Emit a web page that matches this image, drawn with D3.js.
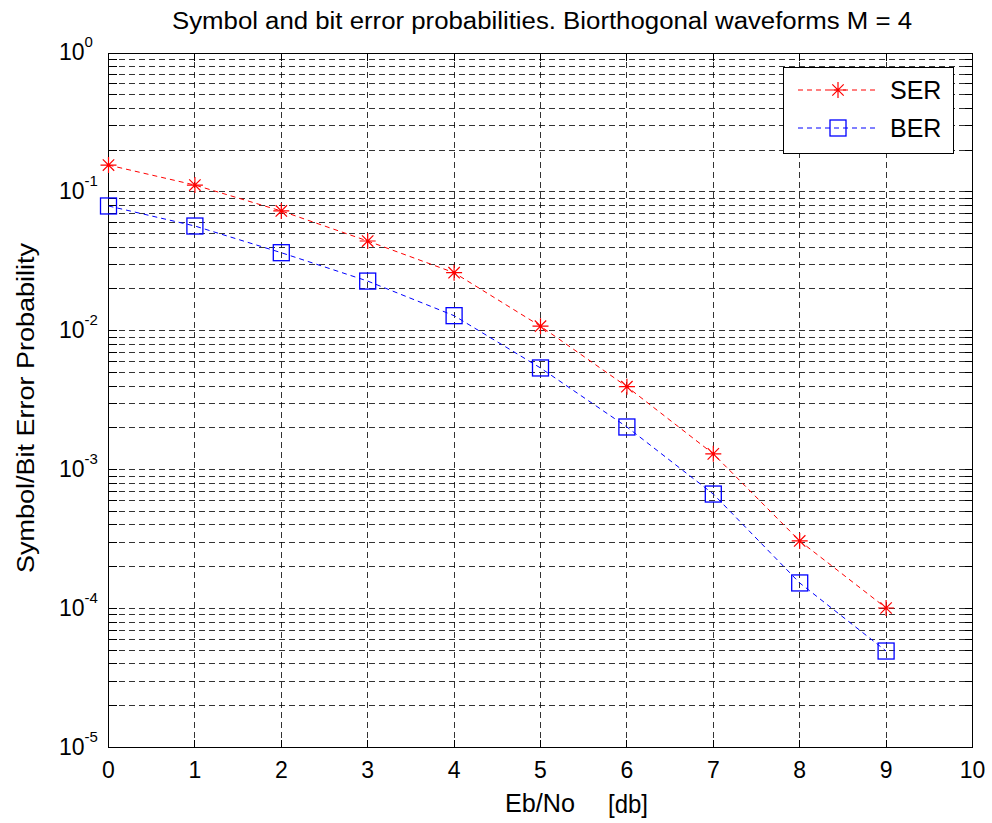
<!DOCTYPE html>
<html>
<head>
<meta charset="utf-8">
<script src="https://cdn.jsdelivr.net/npm/d3@7"></script>
<style>
  html, body { margin: 0; padding: 0; background: #fff; }
  svg { display: block; font-family: Arial, "Liberation Sans", Helvetica, sans-serif; }
</style>
</head>
<body>
<svg id="chart" width="992" height="823"></svg>
<script>
// ---- data ----
const ebno = [0, 1, 2, 3, 4, 5, 6, 7, 8, 9];
const ser = [0.156, 0.112, 0.0729, 0.0443, 0.0262, 0.0108, 0.00396, 0.0013, 0.000307, 0.000101];
const ber = [0.0792, 0.0568, 0.0365, 0.0228, 0.01285, 0.0054, 0.00203, 0.000668, 0.000153, 0.0000495];
const xTicks = [0, 1, 2, 3, 4, 5, 6, 7, 8, 9, 10];
const yDecades = [1, 1e-1, 1e-2, 1e-3, 1e-4, 1e-5];
const yExponents = ["0", "-1", "-2", "-3", "-4", "-5"];
const titleText = "Symbol and bit error probabilities. Biorthogonal waveforms M = 4";
const xLabelText = "Eb/No";
const xUnitText = "[db]";
const yLabelText = "Symbol/Bit Error Probability";
const seriesNames = ["SER", "BER"];

// ---- layout ----
const L = 108.5, R = 972.5, T = 53, B = 747.5;
const svg = d3.select("#chart");
const x = d3.scaleLinear().domain([0, 10]).range([L, R]);
const y = d3.scaleLog().domain([1e-5, 1]).range([B, T]);

// minor values
const minor = [];
for (let e = -5; e < 0; e++) for (let k = 2; k <= 9; k++) minor.push(k * Math.pow(10, e));

const grid = svg.append("g").attr("stroke", "#000").attr("stroke-width", 1)
  .attr("stroke-dasharray", "6,4").attr("shape-rendering", "crispEdges").attr("fill", "none");
grid.selectAll("line.h").data(minor.concat(yDecades.slice(1, 5))).enter().append("line")
  .attr("x1", L).attr("x2", R).attr("y1", d => y(d)).attr("y2", d => y(d)).attr("stroke-opacity", 0.8);
grid.selectAll("line.v").data(xTicks.slice(1, 10)).enter().append("line")
  .attr("y1", B).attr("y2", T).attr("x1", d => x(d)).attr("x2", d => x(d)).attr("stroke-opacity", 0.8);

// axes box + ticks
const ax = svg.append("g").attr("stroke", "#000").attr("stroke-width", 1).attr("shape-rendering", "crispEdges");
ax.append("rect").attr("x", L).attr("y", T).attr("width", R - L).attr("height", B - T).attr("fill", "none");
const tl = 8;
xTicks.forEach(v => {
  ax.append("line").attr("x1", x(v)).attr("x2", x(v)).attr("y1", B).attr("y2", B - tl);
  ax.append("line").attr("x1", x(v)).attr("x2", x(v)).attr("y1", T).attr("y2", T + tl);
});
minor.concat(yDecades).forEach(v => {
  ax.append("line").attr("x1", L).attr("x2", L + tl).attr("y1", y(v)).attr("y2", y(v));
  ax.append("line").attr("x1", R).attr("x2", R - tl).attr("y1", y(v)).attr("y2", y(v));
});

// x tick labels
svg.append("g").selectAll("text").data(xTicks).enter().append("text")
  .attr("x", d => x(d)).attr("y", 778).attr("text-anchor", "middle")
  .attr("font-size", 23).attr("fill", "#000").text(d => d);

// y tick labels
yDecades.forEach((v, i) => {
  const t = svg.append("text").attr("x", 59).attr("y", y(v) + 7).attr("font-size", 23).attr("fill", "#000");
  t.append("tspan").text("10");
  t.append("tspan").attr("dy", -13).attr("font-size", 15).text(yExponents[i]);
});

// series
const line = d3.line().x((d, i) => x(ebno[i])).y(d => y(d));
svg.append("path").datum(ser).attr("d", line).attr("fill", "none")
  .attr("stroke", "#ff0000").attr("stroke-width", 1).attr("stroke-dasharray", "5,4");
svg.append("path").datum(ber).attr("d", line).attr("fill", "none")
  .attr("stroke", "#0000ff").attr("stroke-width", 1).attr("stroke-dasharray", "5,4");

function star(g, cx, cy) {
  const s = 8, d = 5.7;
  g.append("path").attr("d",
    `M${cx - s},${cy}L${cx + s},${cy}M${cx},${cy - s}L${cx},${cy + s}` +
    `M${cx - d},${cy - d}L${cx + d},${cy + d}M${cx - d},${cy + d}L${cx + d},${cy - d}`)
    .attr("stroke", "#ff0000").attr("stroke-width", 1.2).attr("fill", "none");
}
function square(g, cx, cy) {
  g.append("rect").attr("x", cx - 8).attr("y", cy - 8).attr("width", 16).attr("height", 16)
    .attr("fill", "none").attr("stroke", "#0000ff").attr("stroke-width", 1.3);
}
const mk = svg.append("g");
ser.forEach((v, i) => star(mk, x(ebno[i]), y(v)));
ber.forEach((v, i) => square(mk, x(ebno[i]), y(v)));

// legend
const lg = svg.append("g");
lg.append("rect").attr("x", 783.5).attr("y", 67.5).attr("width", 170).attr("height", 86)
  .attr("fill", "#fff").attr("stroke", "#000").attr("stroke-width", 1).attr("shape-rendering", "crispEdges");
lg.append("line").attr("x1", 798).attr("x2", 878).attr("y1", 90).attr("y2", 90)
  .attr("stroke", "#ff0000").attr("stroke-dasharray", "5,4");
star(lg, 838, 90);
lg.append("line").attr("x1", 798).attr("x2", 878).attr("y1", 128).attr("y2", 128)
  .attr("stroke", "#0000ff").attr("stroke-dasharray", "5,4");
square(lg, 838, 128);
lg.append("text").attr("x", 890).attr("y", 99).attr("font-size", 25).text(seriesNames[0]);
lg.append("text").attr("x", 890).attr("y", 137).attr("font-size", 25).text(seriesNames[1]);

// title & labels
svg.append("text").attr("x", 172).attr("y", 29).attr("font-size", 23)
  .attr("textLength", 740).attr("lengthAdjust", "spacingAndGlyphs").text(titleText);
svg.append("text").attr("x", 505).attr("y", 812).attr("font-size", 25)
  .attr("textLength", 70).attr("lengthAdjust", "spacingAndGlyphs").text(xLabelText);
svg.append("text").attr("x", 608).attr("y", 813).attr("font-size", 25)
  .attr("textLength", 40).attr("lengthAdjust", "spacingAndGlyphs").text(xUnitText);
svg.append("text").attr("transform", "translate(34,408) rotate(-90)").attr("text-anchor", "middle")
  .attr("font-size", 23).attr("textLength", 330).attr("lengthAdjust", "spacingAndGlyphs").text(yLabelText);
</script>
</body>
</html>
